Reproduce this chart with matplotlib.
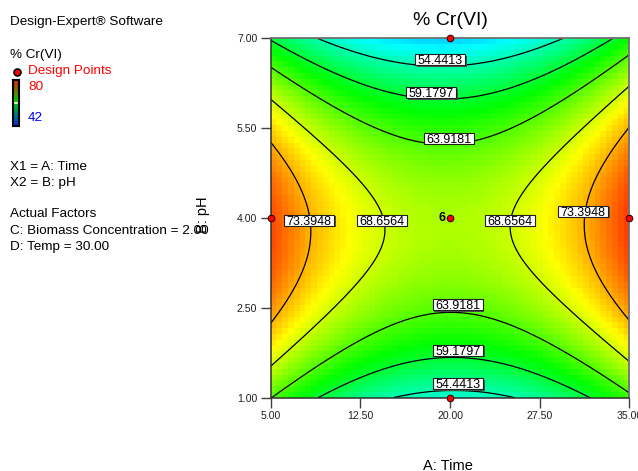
import numpy as np
import matplotlib
matplotlib.use("Agg")
import matplotlib.pyplot as plt
from matplotlib.colors import LinearSegmentedColormap
from matplotlib.patches import Rectangle

plt.rcParams['font.family'] = ['Liberation Sans', 'DejaVu Sans']

# factor ranges (actual units)
time_range = [5.0, 35.0]
ph_range = [1.0, 7.0]

# fitted quadratic model, coded units (a = Time, b = pH)
coef_intercept = 67.35
coef_a = 0.33
coef_b = -1.815
coef_ab = 0.795
coef_aa = 10.3
coef_bb = -15.9

# colour scale of the response
resp_low = 42
resp_high = 80

contour_levels = [54.4413, 59.1797, 63.9181, 68.6564, 73.3948]

# contour label placement (Time, pH, level)
label_time = [19.19, 18.44, 19.92, 8.23, 14.29, 25.02, 31.15, 20.67, 20.69, 20.69]
label_ph = [6.64, 6.09, 5.33, 3.96, 3.96, 3.96, 4.11, 2.55, 1.79, 1.23]
label_level = [54.4413, 59.1797, 63.9181, 73.3948, 68.6564, 68.6564, 73.3948,
               63.9181, 59.1797, 54.4413]

# design points
dp_time = [20, 20, 5, 35, 20]
dp_ph = [7, 1, 4, 4, 4]
center_runs = 6

x_ticks = [5.0, 12.5, 20.0, 27.5, 35.0]
x_tick_labels = ['5.00', '12.50', '20.00', '27.50', '35.00']
y_ticks = [1.0, 2.5, 4.0, 5.5, 7.0]
y_tick_labels = ['1.00', '2.50', '4.00', '5.50', '7.00']

n_cells = 62


def response(t, p):
    a = (t - 20.0) / 15.0
    b = (p - 4.0) / 3.0
    return (coef_intercept + coef_a * a + coef_b * b + coef_ab * a * b
            + coef_aa * a ** 2 + coef_bb * b ** 2)


W, H = 638, 471
fig = plt.figure(figsize=(W / 100, H / 100), dpi=100)

# plot box in pixels
px_l, px_t, px_r, px_b = 270.7, 38.3, 629.3, 397.7
ax = fig.add_axes([px_l / W, 1 - px_b / H, (px_r - px_l) / W, (px_b - px_t) / H])

cmap = LinearSegmentedColormap.from_list(
    'de', ['#0000ff', '#00ffff', '#00ff00', '#ffff00', '#ff0000'])

# blocky colour map
xe = np.linspace(time_range[0], time_range[1], n_cells + 1)
ye = np.linspace(ph_range[0], ph_range[1], n_cells + 1)
xc = 0.5 * (xe[:-1] + xe[1:])
yc = 0.5 * (ye[:-1] + ye[1:])
XC, YC = np.meshgrid(xc, yc)
ax.pcolormesh(xe, ye, response(XC, YC), cmap=cmap, vmin=resp_low, vmax=resp_high,
              shading='flat')

# contour lines
xf = np.linspace(time_range[0], time_range[1], 301)
yf = np.linspace(ph_range[0], ph_range[1], 301)
XF, YF = np.meshgrid(xf, yf)
ax.contour(XF, YF, response(XF, YF), levels=contour_levels, colors='black',
           linewidths=0.9)

ax.set_xlim(time_range)
ax.set_ylim(ph_range)

# pixel -> data sizes
dx = (time_range[1] - time_range[0]) / (px_r - px_l)
dy = (ph_range[1] - ph_range[0]) / (px_b - px_t)
bw, bh = 50, 11
for t, p, lev in zip(label_time, label_ph, label_level):
    ax.add_patch(Rectangle((t - bw / 2 * dx + 1.3 * dx, p - bh / 2 * dy - 1.3 * dy),
                           bw * dx, bh * dy, facecolor='#505050', edgecolor='none',
                           zorder=4))
    ax.add_patch(Rectangle((t - bw / 2 * dx, p - bh / 2 * dy), bw * dx, bh * dy,
                           facecolor='white', edgecolor='#202020', linewidth=0.8,
                           zorder=5))
    ax.text(t, p - 4.5 * dy, f'{lev:.4f}', ha='center', va='baseline',
            fontsize=9, color='black', zorder=6)

ax.scatter(dp_time, dp_ph, s=22, facecolor='#ff0000', edgecolor='#400000',
           linewidth=0.8, zorder=7, clip_on=False)
ax.text(20 - 4 * dx, 4.0, str(center_runs), ha='right', va='center',
        fontsize=9, fontweight='bold', zorder=7)

ax.set_xticks(x_ticks)
ax.set_xticklabels(x_tick_labels)
ax.set_yticks(y_ticks)
ax.set_yticklabels(y_tick_labels)
ax.tick_params(direction='out', length=7.2, width=1.0, color='#404040',
               labelsize=7.6, pad=2.5, labelcolor='#202020')
for side in ['left', 'bottom']:
    ax.spines[side].set_color('#303030')
    ax.spines[side].set_linewidth(1.1)
for side in ['top', 'right']:
    ax.spines[side].set_color('#707070')
    ax.spines[side].set_linewidth(1.3)


def ftext(x, y, s, **kw):
    fig.text(x / W, 1 - y / H, s, **kw)


ftext(450, 20.7, '% Cr(VI)', ha='center', va='center', fontsize=14)
ftext(448, 465.5, 'A: Time', ha='center', va='center', fontsize=10.5)
ftext(203, 215, 'B: pH', ha='center', va='center', fontsize=10.5, rotation=90)

left_kw = dict(ha='left', va='center', fontsize=9.7)
ftext(10, 22, 'Design-Expert® Software', **left_kw)
ftext(10, 55, '% Cr(VI)', **left_kw)
ftext(28, 71, 'Design Points', color='#ff0000', **left_kw)
ftext(28, 86.5, str(resp_high), color='#ff0000', **left_kw)
ftext(28, 118, str(resp_low), color='#0000ff', **left_kw)
ftext(10, 166.5, 'X1 = A: Time', **left_kw)
ftext(10, 183, 'X2 = B: pH', **left_kw)
ftext(10, 214, 'Actual Factors', **left_kw)
ftext(10, 231, 'C: Biomass Concentration = 2.00', **left_kw)
ftext(10, 247, 'D: Temp = 30.00', **left_kw)

# legend dot
fig.add_artist(plt.Line2D([17.3 / W], [1 - 71.5 / H], marker='o', markersize=5,
                          markerfacecolor='#ff0000', markeredgecolor='black',
                          markeredgewidth=1.2, linestyle='none'))

# legend colour bar
cax = fig.add_axes([12.5 / W, 1 - 125.5 / H, 6 / W, 46 / H])
legend_cmap = LinearSegmentedColormap.from_list('leg', ['#0033dd', '#00cc00', '#dd2200'])
cax.imshow(np.linspace(0, 1, 100).reshape(-1, 1), cmap=legend_cmap, aspect='auto',
           origin='lower', extent=[0, 1, 0, 1])
cax.axhline(0.5, color='white', linewidth=1.2)
cax.set_xticks([])
cax.set_yticks([])
for s in cax.spines.values():
    s.set_color('black')
    s.set_linewidth(1.5)

fig.savefig('out.png', dpi=100)
